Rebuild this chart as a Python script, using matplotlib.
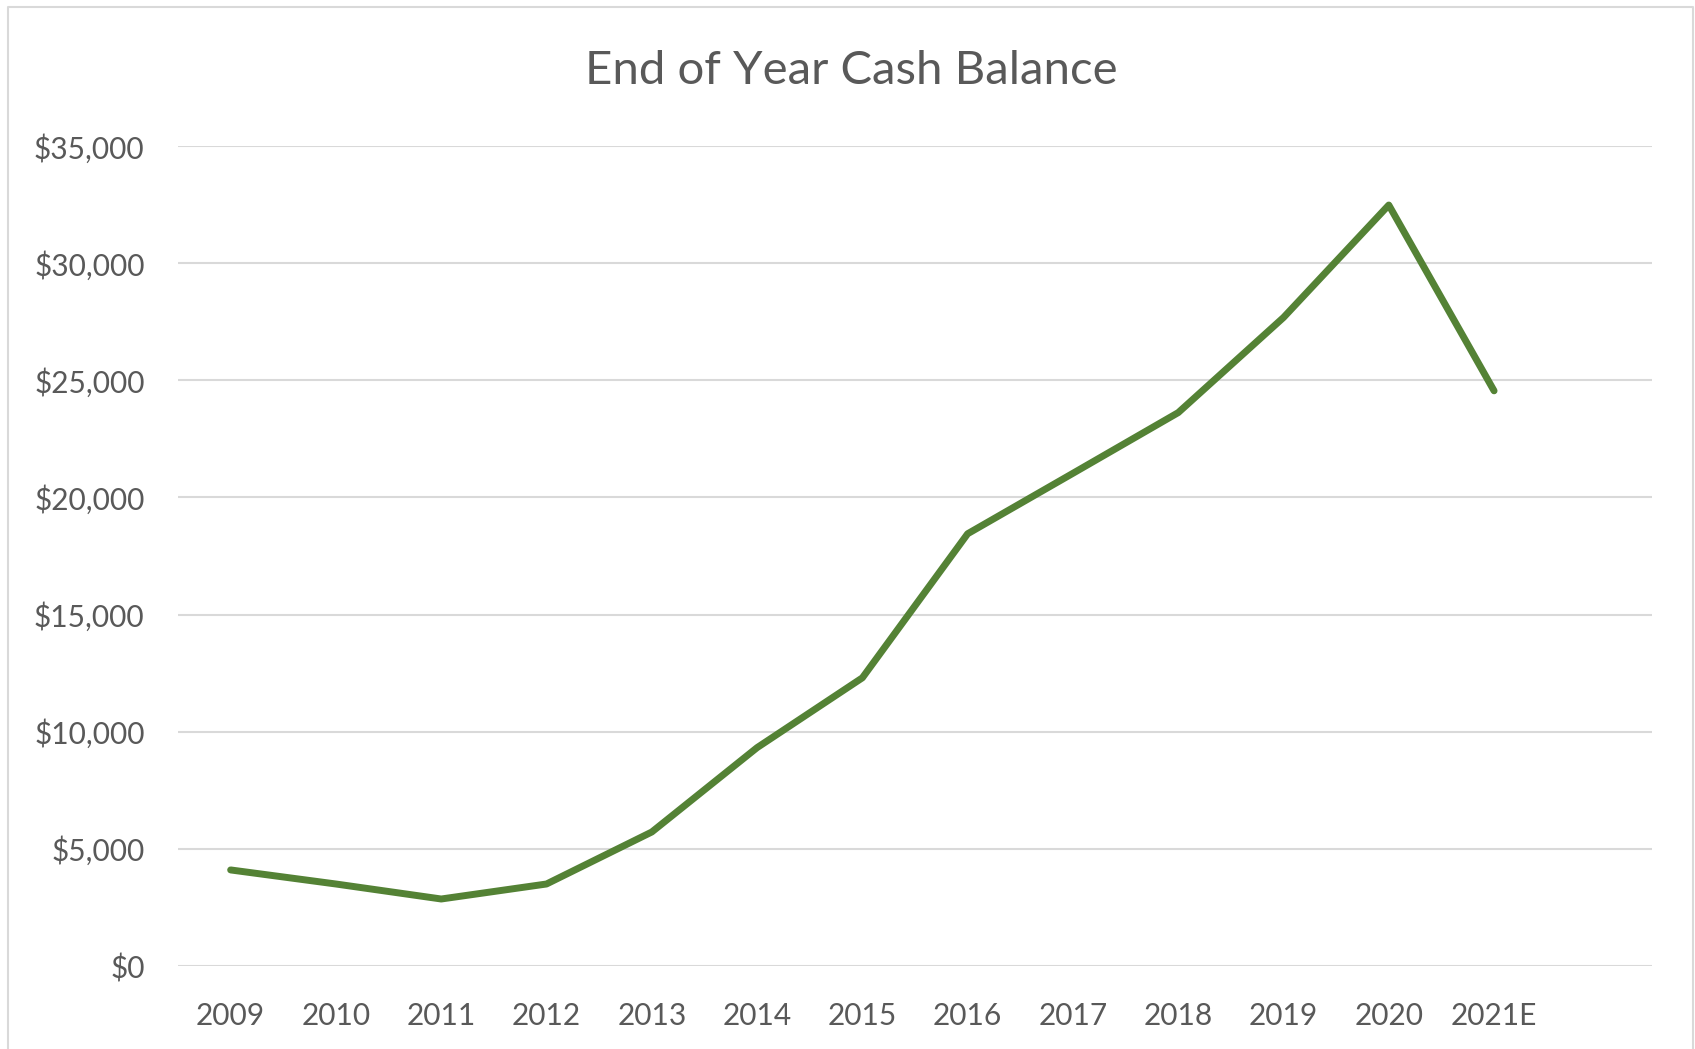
import matplotlib
matplotlib.use("Agg")
import matplotlib.pyplot as plt
from matplotlib.lines import Line2D
from matplotlib.ticker import FuncFormatter

years = ["2009", "2010", "2011", "2012", "2013", "2014", "2015",
         "2016", "2017", "2018", "2019", "2020", "2021E"]
cash = [4100, 3500, 2860, 3500, 5720, 9320, 12300,
        18450, 21030, 23620, 27680, 32480, 24550]

plt.rcParams['font.family'] = ['Lato', 'DejaVu Sans']
text_col = "#595959"
grid_col = "#D9D9D9"

fig = plt.figure(figsize=(16.95, 10.49), dpi=100)
W, H = 1695, 1049
# plot area in pixels
left, right, top, bottom = 178, 1652, 146, 966
ax = fig.add_axes([left / W, 1 - bottom / H, (right - left) / W, (bottom - top) / H])

x = list(range(len(years)))
ax.plot(x, cash, color="#548235", lw=5, solid_capstyle="round", solid_joinstyle="round", zorder=3)

ax.set_xlim(-0.5, len(years) + 0.5)
ax.set_ylim(0, 35000)
ax.set_yticks(range(0, 35001, 5000))
ax.yaxis.set_major_formatter(FuncFormatter(lambda v, p: "${:,.0f}".format(v)))
ax.set_xticks(x)
ax.set_xticklabels(years)
ax.grid(axis="y", color=grid_col, lw=1.5)
ax.set_axisbelow(True)
for s in ax.spines.values():
    s.set_visible(False)
ax.tick_params(length=0, labelsize=21.5, colors=text_col)
ax.tick_params(axis="y", pad=24)
ax.tick_params(axis="x", pad=26)

fig.text(851 / W, 1 - 71 / H, "End of Year Cash Balance", ha="center", va="center",
         fontsize=34, color=text_col)

# chart frame
bx0, bx1, by0 = 8 / W, 1693 / W, 1 - 7 / H
fig.add_artist(Line2D([bx0, bx0, bx1, bx1], [0, by0, by0, 0], color=grid_col, lw=1.5))

fig.savefig("out.png", dpi=100)
